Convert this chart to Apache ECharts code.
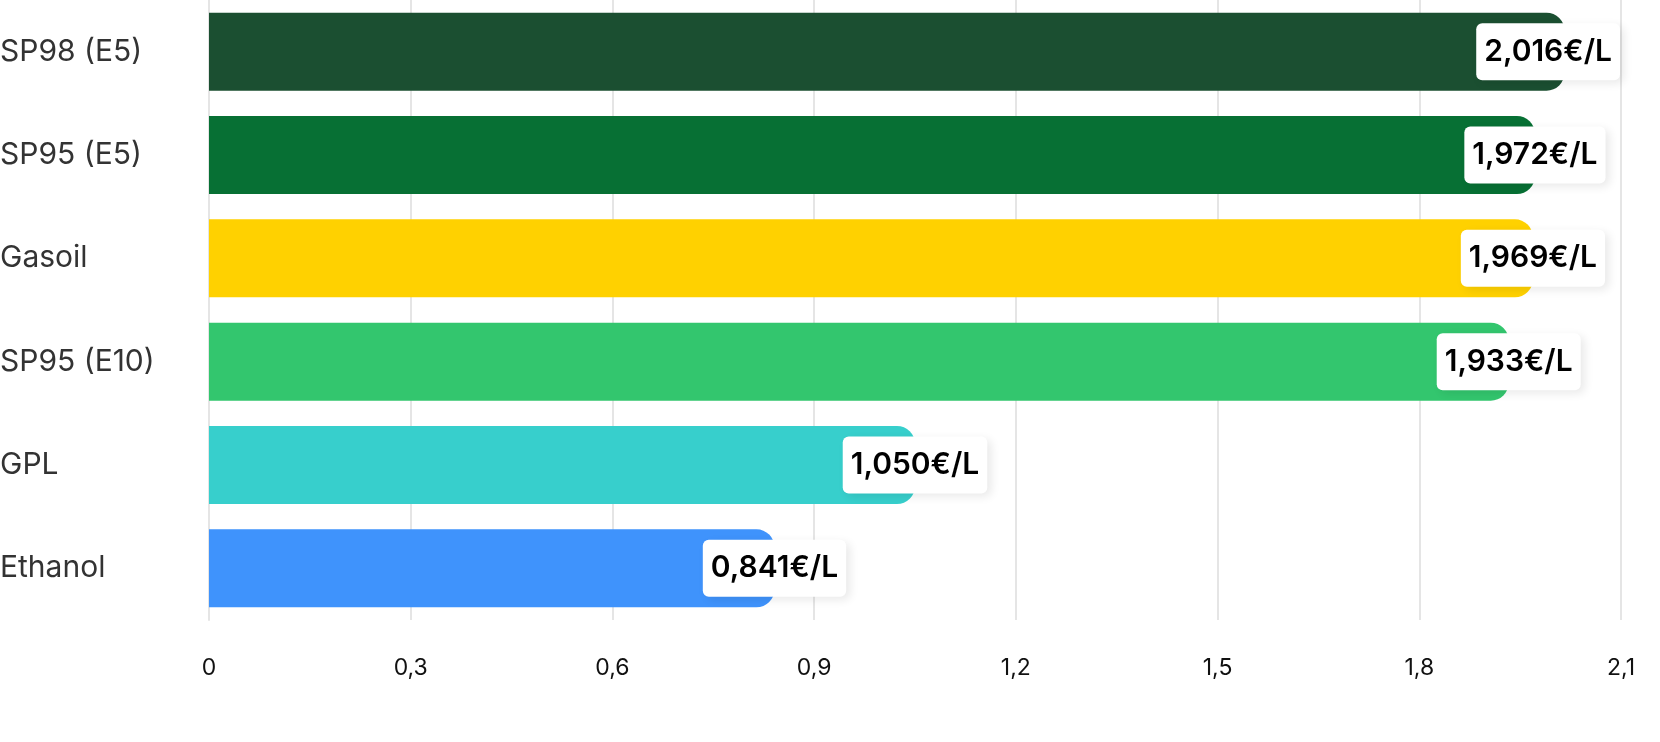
<!DOCTYPE html>
<html>
<head>
<meta charset="utf-8">
<title>Prix des carburants</title>
<script src="https://cdn.jsdelivr.net/npm/echarts@6/dist/echarts.min.js"></script>
<style>
  html, body { margin: 0; padding: 0; background: #fff; }
  #main { width: 1660px; height: 742px; }
</style>
</head>
<body>
<div id="main"></div>
<script>
// carburants et prix moyens (€/L)
var fuels = ['SP98 (E5)', 'SP95 (E5)', 'Gasoil', 'SP95 (E10)', 'GPL', 'Ethanol'];
var prices = [2.016, 1.972, 1.969, 1.933, 1.050, 0.841];
var barColors = ['#1b4f31', '#077034', '#ffd100', '#33c66e', '#37cfcc', '#3f93fc'];
var xTicks = ['0', '0,3', '0,6', '0,9', '1,2', '1,5', '1,8', '2,1'];

var myChart = echarts.init(document.getElementById('main'));

var option = {
    animation: false,
    grid: {
        left: 209,
        right: 39,
        top: 0,
        bottom: 122,
        containLabel: false,
        outerBoundsMode: 'none'
    },
    xAxis: {
        type: 'value',
        min: 0,
        max: 2.1,
        interval: 0.3,
        axisLine: { show: false },
        axisTick: { show: false },
        splitLine: { lineStyle: { color: '#e5e5e5', width: 2 } },
        axisLabel: {
            margin: 37,
            fontFamily: 'Inter',
            fontSize: 23,
            color: '#111',
            formatter: function (v) {
                return xTicks[Math.round(v / 0.3)];
            }
        }
    },
    yAxis: {
        type: 'category',
        inverse: true,
        data: fuels,
        axisLine: { show: true, lineStyle: { color: '#e5e5e5', width: 2 } },
        axisTick: { show: false },
        axisLabel: {
            align: 'left',
            margin: 209,
            fontFamily: 'Inter',
            fontSize: 30,
            color: '#333'
        }
    },
    series: [{
        name: 'Prix',
        type: 'bar',
        barWidth: 78,
        data: prices.map(function (p, i) {
            return { value: p, itemStyle: { color: barColors[i] } };
        }),
        itemStyle: { borderRadius: [0, 18, 18, 0] },
        label: {
            show: true,
            position: 'right',
            distance: 0,
            align: 'center',
            formatter: function (p) {
                return p.value.toFixed(3).replace('.', ',') + '€/L';
            },
            fontFamily: 'Inter',
            fontSize: 30,
            fontWeight: 600,
            color: '#000',
            lineHeight: 30,
            backgroundColor: '#fff',
            borderRadius: 6,
            padding: [14, 8, 13, 8],
            shadowColor: 'rgba(0,0,0,0.09)',
            shadowBlur: 10,
            shadowOffsetX: 4,
            shadowOffsetY: 3
        },
        labelLayout: function (params) {
            var r = params.labelRect;
            var limit = 1620;
            if (r.x + r.width > limit) {
                return { dx: limit - (r.x + r.width) };
            }
        }
    }]
};

myChart.setOption(option);
</script>
</body>
</html>
